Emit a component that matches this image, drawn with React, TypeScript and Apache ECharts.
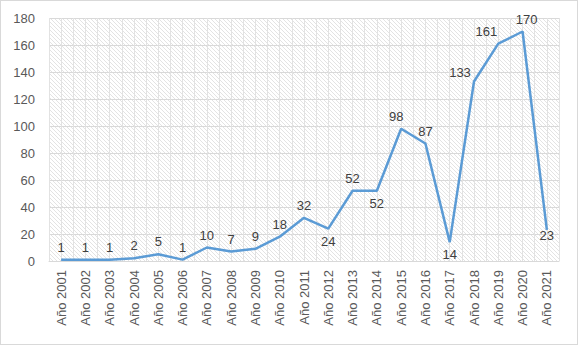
import React, { useEffect, useRef } from "react";
import * as echarts from "echarts";

const categories = [
  "Año 2001", "Año 2002", "Año 2003", "Año 2004", "Año 2005", "Año 2006", "Año 2007",
  "Año 2008", "Año 2009", "Año 2010", "Año 2011", "Año 2012", "Año 2013", "Año 2014",
  "Año 2015", "Año 2016", "Año 2017", "Año 2018", "Año 2019", "Año 2020", "Año 2021",
];
const values = [1, 1, 1, 2, 5, 1, 10, 7, 9, 18, 32, 24, 52, 52, 98, 87, 14, 133, 161, 170, 23];
const labelsBelow = ["Año 2012", "Año 2014", "Año 2017"];
const labelsCentered = ["Año 2021"];

const hatchSvg =
  "<svg xmlns='http://www.w3.org/2000/svg' width='4' height='4'>" +
  "<path d='M-1,-1 L5,5 M-1,3 L1,5 M3,-1 L5,1' stroke='#e3e3e3' stroke-width='1'/></svg>";
const hatchUrl = "data:image/svg+xml;charset=utf-8," + encodeURIComponent(hatchSvg);

// small manual nudges of a few data labels (style only)
const labelNudge: Record<string, number[]> = {
  "Año 2015": [-5, 0],
  "Año 2018": [-14, 4],
  "Año 2019": [-12, 0],
  "Año 2020": [4, 0],
};

export default function App() {
  const ref = useRef<HTMLDivElement>(null);
  useEffect(() => {
    document.body.style.margin = "0";
    const chart = echarts.init(ref.current!, undefined, { renderer: "svg" });
    const font = "'Liberation Sans', Arial, sans-serif";
    chart.setOption({
      animation: false,
      backgroundColor: "#ffffff",
      grid: {
        left: 48,
        right: 18,
        top: 17,
        bottom: 83,
        show: true,
        borderWidth: 0,
        backgroundColor: { image: hatchUrl, repeat: "repeat" } as any,
      },
      xAxis: [
        {
          type: "category",
          data: categories,
          boundaryGap: true,
          axisLine: { show: true, lineStyle: { color: "#d9d9d9", width: 1 } },
          axisTick: { show: false },
          splitLine: { show: false },
          axisLabel: {
            rotate: 90,
            interval: 0,
            margin: 9,
            color: "#595959",
            fontSize: 13,
            fontFamily: font,
          },
        },
        {
          type: "value",
          min: 0,
          max: categories.length * 2,
          interval: 1,
          show: true,
          position: "bottom",
          axisLine: { show: false },
          axisTick: { show: false },
          axisLabel: { show: false },
          splitLine: { show: true, lineStyle: { color: "#e2e2e2", width: 1 } },
        },
      ],
      yAxis: {
        type: "value",
        min: 0,
        max: 180,
        interval: 20,
        axisLine: { show: false },
        axisTick: { show: false },
        splitLine: { show: true, lineStyle: { color: "#d9d9d9", width: 1 } },
        axisLabel: {
          margin: 14,
          color: "#595959",
          fontSize: 13,
          fontFamily: font,
        },
      },
      series: [
        {
          type: "line",
          xAxisIndex: 0,
          data: values.map((v, i) => {
            const c = categories[i];
            if (labelsBelow.includes(c)) {
              return { value: v, label: { position: "bottom", distance: 6 } };
            }
            if (labelsCentered.includes(c)) {
              return { value: v, label: { position: "inside", offset: [0, 6] } };
            }
            if (labelNudge[c]) {
              return { value: v, label: { offset: labelNudge[c] } };
            }
            return v;
          }),
          symbol: "circle",
          symbolSize: 0,
          showSymbol: true,
          lineStyle: { color: "#5b9bd5", width: 2.5 },
          itemStyle: { color: "#5b9bd5" },
          label: {
            show: true,
            position: "top",
            distance: 6,
            color: "#404040",
            fontSize: 13,
            fontFamily: font,
          },
        },
      ],
    });
    return () => chart.dispose();
  }, []);
  return (
    <div
      style={{
        width: 578,
        height: 345,
        boxSizing: "border-box",
        border: "1px solid #d9d9d9",
        position: "relative",
        background: "#fff",
      }}
    >
      <div ref={ref} style={{ width: 576, height: 343 }} />
    </div>
  );
}
